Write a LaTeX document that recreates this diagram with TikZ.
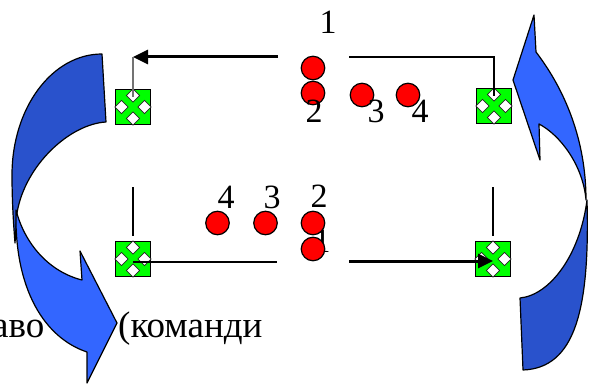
\documentclass[tikz,border=0pt]{standalone}
\usepackage{fontspec}
\setmainfont{Liberation Serif}
\newfontfamily\labelface{Liberation Serif}
\usetikzlibrary{shapes.geometric,arrows.meta}

\definecolor{flowdark}{RGB}{41,82,204}
\definecolor{flowlight}{RGB}{51,102,255}
\definecolor{icongreen}{RGB}{0,255,0}
\definecolor{tokenred}{RGB}{255,0,0}

\tikzset{
  gbox/.style={rectangle, draw=black, line width=1pt, fill=icongreen,
    minimum size=35pt, inner sep=0pt, outer sep=0pt},
  gnotch/.style={diamond, draw=black!85, line width=0.8pt, fill=white,
    minimum size=13.5pt, inner sep=0pt},
  token/.style={circle, draw=black, line width=1.2pt, fill=tokenred,
    minimum size=23.5pt, inner sep=0pt},
  num/.style={font=\labelface\fontsize{34}{36}\selectfont, inner sep=0pt, anchor=base},
  caption/.style={font=\labelface\fontsize{37}{40}\selectfont, inner sep=0pt, anchor=base west},
  thinwire/.style={draw=black, line width=1.3pt},
  greywire/.style={draw=black!55, line width=1.5pt},
  mainarrow/.style={draw=black, line width=3pt, -{Triangle[length=15pt,width=14pt]}},
  flowback/.style={fill=flowdark, draw=black, line width=1.2pt, line join=round},
  flowfront/.style={fill=flowlight, draw=black, line width=1.2pt, line join=round},
}

% green "move" icon: square with four white notches between the arms
\newcommand\moveicon[2]{%
  \node[gbox] (#1) at (#2) {};
  \foreach \side/\dx/\dy in {north/0/-6, south/0/6, east/-6/0, west/6/0}
    \node[gnotch] at ([xshift=\dx pt, yshift=\dy pt]#1.\side) {};
}

\begin{document}
\begin{tikzpicture}[x=1pt, y=-1pt]
\useasboundingbox (0,0) rectangle (591,385);
\begin{scope}
\clip (0,0) rectangle (591,385);

% caption text (partly covered by the left arrow)
\node[caption] (capA) at (-8,337) {аво};
\node[caption] (capB) at (118,337) {(команди};

% icons
\moveicon{tl}{133,107}
\moveicon{tr}{494,106}
\moveicon{bl}{133,259}
\moveicon{br}{493,259}

% wires
\coordinate (tlFrom) at (278,57);
\coordinate (trFrom) at (349,57);
\coordinate (blTop) at (133,187);
\coordinate (blTo) at (277,262);
\coordinate (brFrom) at (349,261);
\coordinate (brTop) at (493,187);

\draw[mainarrow] (tlFrom) -- (tlFrom -| tl);
\draw[greywire] (tlFrom -| tl) -- ([yshift=-8pt]tl.north);
\draw[thinwire] (trFrom) -- (trFrom -| tr) -- ([yshift=-8pt]tr.north);
\draw[thinwire] (blTop) -- ([yshift=6pt]bl.north);
\draw[thinwire] (bl.center |- blTo) -- (blTo);
\draw[thinwire] (brTop) -- ([yshift=6pt]br.north);
\draw[mainarrow] (brFrom) -- (brFrom -| br);

% lower row: the "1" sits behind its token
\node[num] (nb1) at (322,252) {1};

% tokens
\node[token] (t1) at (313,68) {};
\node[token] (t2) at (313,93) {};
\node[token] (t3) at (362,95) {};
\node[token] (t4) at (408,95) {};
\node[token] (b4) at (217.5,223) {};
\node[token] (b3) at (265.5,223) {};
\node[token] (b2) at (313,223) {};
\node[token] (b1) at (313,249) {};

% token numbers
\node[num] (nt1) at (328,34) {1};
\node[num] (nt2) at (314,122) {2};
\node[num] (nt3) at (376,122) {3};
\node[num] (nt4) at (420,122) {4};
\node[num] (nb4) at (226,208) {4};
\node[num] (nb3) at (272,208) {3};
\node[num] (nb2) at (319,207) {2};

% left curved arrow: dark back band, then light front band with head
\path[flowback] (102,54) .. controls (52,54) and (12,108) .. (12,175)
  .. controls (12,205) and (14,230) .. (15,243) -- (17,213)
  .. controls (25,165) and (70,124) .. (106,122) -- cycle;
\path[flowfront] (16,210) .. controls (14,290) and (45,338) .. (87,352)
  -- (87,383) -- (117,323) -- (80,251) -- (82,280)
  .. controls (50,272) and (25,245) .. (16,210) -- cycle;

% right curved arrow: dark back band, then light front band with head
\path[flowback] (520,298) -- (523,370)
  .. controls (575,368) and (590,310) .. (587,200)
  .. controls (580,255) and (550,295) .. (520,298) -- cycle;
\path[flowfront] (586,200) .. controls (586,140) and (565,90) .. (536,52)
  -- (534,15) -- (513,80) -- (540,160) -- (539,124)
  .. controls (560,135) and (583,165) .. (586,200) -- cycle;
\end{scope}
\end{tikzpicture}
\end{document}
